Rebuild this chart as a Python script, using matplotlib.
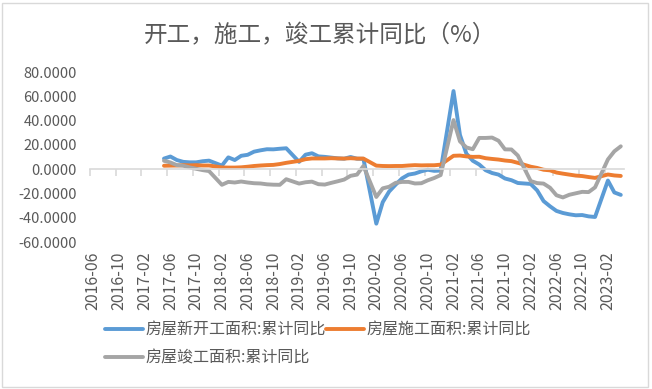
import numpy as np
import pandas as pd
import matplotlib
matplotlib.use("Agg")
import matplotlib.pyplot as plt
from matplotlib.patches import Rectangle

plt.rcParams['font.family'] = ['Noto Sans CJK SC', 'DejaVu Sans']

# 月份类别: 2016-06 ~ 2023-04
months = pd.period_range("2016-06", "2023-04", freq="M").strftime("%Y-%m").tolist()
n_pad = 11  # 2016-06 ~ 2017-04 无数据
nan = np.nan

# 房屋新开工面积:累计同比 (2017-05 ~ 2023-04, 1月无数据)
xinkaigong = [8.7, 10.4, 7.5, 6.0, 5.6, 5.6, 6.5, 7.0,
              nan, 2.9, 9.7, 7.5, 11.0, 11.8, 14.4, 15.5, 16.4, 16.3, 16.8, 17.2,
              nan, 6.0, 11.9, 13.1, 10.5, 10.1, 9.5, 8.9, 8.6, 10.0, 8.6, 8.5,
              nan, -44.9, -27.2, -18.4, -12.8, -7.6, -4.5, -3.6, -1.8, -0.5, -1.4, -1.2,
              nan, 64.3, 28.2, 12.8, 6.9, 3.8, -0.9, -3.2, -4.5, -7.7, -9.1, -11.4,
              nan, -12.2, -17.5, -26.3, -30.6, -34.4, -36.1, -37.2, -38.0, -37.8, -38.9, -39.4,
              nan, -9.4, -19.2, -21.2]

# 房屋施工面积:累计同比
shigong = [2.8, 2.9, 3.0, 3.3, 3.1, 3.3, 3.0, 3.0,
           nan, 1.4, 1.3, 1.3, 1.5, 2.0, 2.6, 3.0, 3.3, 3.5, 4.2, 5.2,
           nan, 6.8, 8.2, 8.8, 8.8, 8.8, 9.0, 8.8, 8.7, 9.0, 8.7, 8.7,
           nan, 2.9, 2.6, 2.5, 2.6, 2.6, 3.0, 3.3, 3.1, 3.2, 3.2, 3.7,
           nan, 11.0, 11.2, 10.5, 10.1, 10.2, 9.0, 8.4, 7.9, 7.1, 6.6, 5.2,
           nan, 2.0, 1.0, -0.5, -1.0, -2.8, -3.7, -4.5, -5.3, -5.7, -6.5, -7.2,
           nan, -4.4, -5.2, -5.6]

# 房屋竣工面积:累计同比
jungong = [6.9, 5.5, 3.3, 2.8, 1.4, 0.3, -0.8, -1.6,
           nan, -12.9, -10.5, -11.0, -10.2, -11.0, -11.6, -11.8, -12.5, -12.8, -12.9, -8.3,
           nan, -11.9, -10.8, -10.3, -12.4, -12.7, -11.3, -10.0, -8.6, -5.5, -4.5, 2.6,
           nan, -22.9, -15.8, -14.5, -11.3, -10.5, -10.5, -11.8, -11.6, -9.2, -7.3, -4.9,
           nan, 40.4, 22.9, 17.9, 16.4, 25.7, 25.7, 26.0, 23.4, 16.3, 16.2, 11.2,
           nan, -9.8, -11.5, -11.9, -15.3, -21.5, -23.3, -21.1, -19.9, -18.7, -18.9, -15.0,
           nan, 8.0, 14.7, 18.8]

series = [
    ("房屋新开工面积:累计同比", xinkaigong, "#5B9BD5"),
    ("房屋施工面积:累计同比", shigong, "#ED7D31"),
    ("房屋竣工面积:累计同比", jungong, "#A5A5A5"),
]

text_color = "#595959"
x = np.arange(len(months))

fig = plt.figure(figsize=(6.52, 3.89), dpi=100)
ax = fig.add_axes([90 / 652, 1 - 242 / 389, 534 / 652, 170 / 389])

lines = []
for name, vals, color in series:
    y = np.array([nan] * n_pad + vals, dtype=float)
    ok = ~np.isnan(y)
    ln, = ax.plot(x[ok], y[ok], color=color, lw=2.8, label=name, solid_capstyle="round")
    lines.append(ln)

ax.set_xlim(-0.5, len(months) - 0.5)
ax.set_ylim(-60, 80)
ax.set_yticks(np.arange(-60, 81, 20))
ax.set_yticklabels([f"{v:.4f}" for v in np.arange(-60, 81, 20)])
ax.tick_params(axis="y", length=0, labelsize=10.5, labelcolor=text_color, pad=9.5)

for s in ["top", "right", "left"]:
    ax.spines[s].set_visible(False)
ax.spines["bottom"].set_position(("data", 0))
ax.spines["bottom"].set_color("#D9D9D9")
ax.spines["bottom"].set_linewidth(1.2)
ax.set_xticks([])
ax.set_xticks(np.arange(-0.5, len(months), 4), minor=True)
ax.tick_params(axis="x", which="minor", length=5, color="#D9D9D9", width=1.2)

sec = ax.secondary_xaxis("bottom")
sec.set_xticks(x[::4])
sec.set_xticklabels(months[::4], rotation=90)
sec.tick_params(length=0, labelsize=11.5, labelcolor=text_color, pad=7)
sec.spines["bottom"].set_visible(False)

fig.text(0.49, 1 - 36 / 389, "开工，施工，竣工累计同比（%）", ha="center", va="center",
         fontsize=17, color=text_color)

# 按行排列: 第一行 新开工、施工; 第二行 竣工
order = [lines[0], lines[2], lines[1]]
fig.legend(order, [l.get_label() for l in order], loc="upper left",
           bbox_to_anchor=(105 / 652, 1 - 322 / 389), ncol=2,
           frameon=False, fontsize=11.5, labelcolor=text_color, handlelength=2.4,
           handletextpad=0.15, columnspacing=0.0, borderaxespad=0, borderpad=0,
           labelspacing=0.65)

fig.patches.append(Rectangle((2 / 652, 2 / 389), 646 / 652, 384 / 389,
                             transform=fig.transFigure, fill=False,
                             edgecolor="#D9D9D9", lw=1))

fig.savefig("out.png", dpi=100)
